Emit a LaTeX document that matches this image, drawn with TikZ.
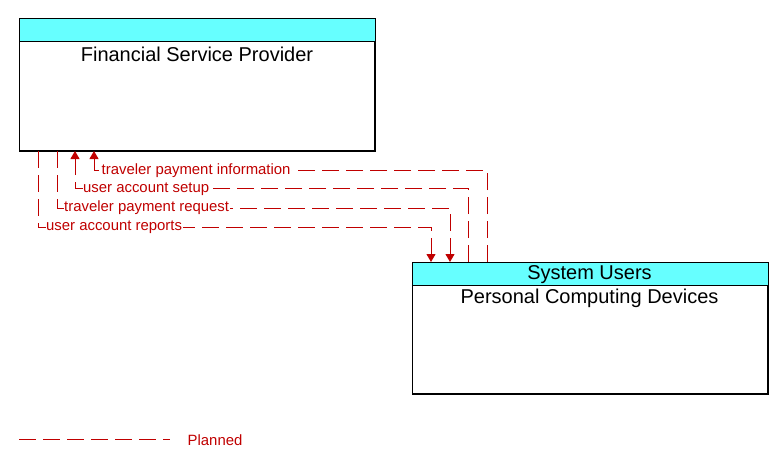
\documentclass[tikz,border=0pt]{standalone}
\usepackage{fontspec}
\setmainfont{Liberation Sans}
\usetikzlibrary{arrows.meta,calc}
\definecolor{flowred}{RGB}{192,0,0}
\definecolor{hdrcyan}{RGB}{102,255,255}
\begin{document}
\begin{tikzpicture}[x=1pt,y=-1pt,
 box/.style={draw=black,fill=white,line width=1pt,minimum width=355pt,minimum height=131pt,inner sep=0pt,anchor=north west},
 flow/.style={draw=flowred,line width=1pt,dash pattern=on 17pt off 7pt},
 tip/.style={-{Triangle[width=9pt,length=8pt]},flowred},
 flab/.style={text=flowred,font=\fontsize{14.9}{16}\selectfont,fill=white,inner sep=0.5pt,anchor=west},
 ttl/.style={font=\fontsize{20}{22}\selectfont,inner sep=0pt}]
\useasboundingbox (0,0) rectangle (783,468);
% boxes
\node[box] (fsp) at (19,19) {};
\fill[hdrcyan] (fsp.north west) rectangle ([yshift=-23pt]fsp.north east);
\draw[line width=1pt] ([yshift=-23pt]fsp.north west) -- ([yshift=-23pt]fsp.north east);
\draw[line width=1pt] (fsp.north west) rectangle (fsp.south east);
\node[ttl] (fspt) at (197,54) {Financial Service Provider};

\node[box] (pcd) at (412,262) {};
\fill[hdrcyan] (pcd.north west) rectangle ([yshift=-23pt]pcd.north east);
\draw[line width=1pt] ([yshift=-23pt]pcd.north west) -- ([yshift=-23pt]pcd.north east);
\draw[line width=1pt] (pcd.north west) rectangle (pcd.south east);
\node[ttl] (pcdh) at (589.5,274.5) {System Users};
\node[ttl] (pcdt) at (589.5,298) {Personal Computing Devices};

% flows
\draw[flow,tip] ([xshift=75pt]pcd.north west) -- ++(0,-92) -| ([xshift=75pt]fsp.south west);
\draw[flow,tip] ([xshift=56pt]pcd.north west) -- ++(0,-74) -| ([xshift=56pt]fsp.south west);
\draw[flow,tip] ([xshift=38pt]fsp.south west) -- ++(0,57) -| ([xshift=38pt]pcd.north west);
\draw[flow,tip] ([xshift=19pt]fsp.south west) -- ++(0,76) -| ([xshift=19pt]pcd.north west);

\node[flab] (l1) at (101,171) {traveler payment information};
\node[flab] (l2) at (82.5,189) {user account setup};
\node[flab] (l3) at (63.5,208) {traveler payment request};
\node[flab] (l4) at (45.5,227) {user account reports};

% legend
\coordinate (lg1) at (19,439);
\coordinate (lg2) at (170,439);
\draw[flow] (lg1) -- (lg2);
\node[flab,fill=none] (lgt) at (187,440) {Planned};
\end{tikzpicture}
\end{document}
